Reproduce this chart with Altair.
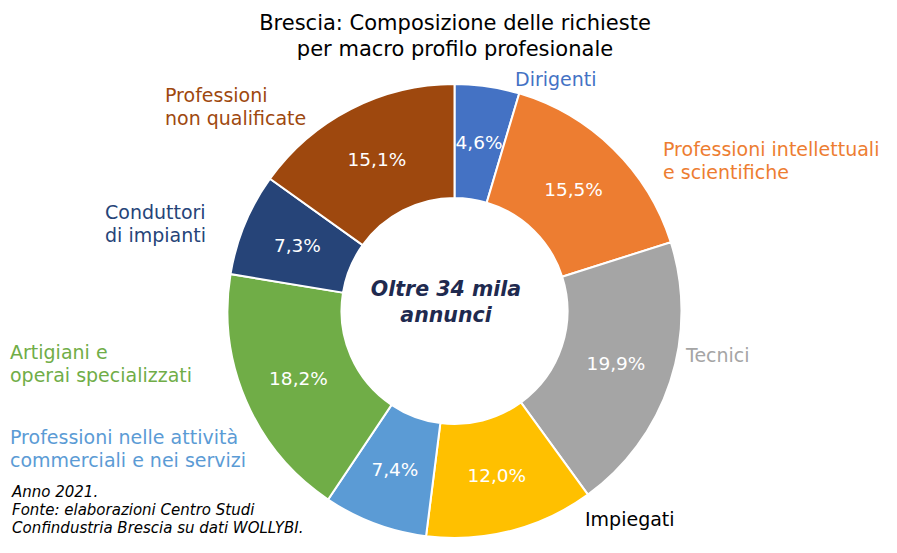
import altair as alt
import pandas as pd

# ---- data ----
categories = ["Dirigenti", "Professioni intellettuali e scientifiche", "Tecnici", "Impiegati",
              "Professioni nelle attività commerciali e nei servizi", "Artigiani e operai specializzati",
              "Conduttori di impianti", "Professioni non qualificate"]
shares = [4.6, 15.5, 19.9, 12.0, 7.4, 18.2, 7.3, 15.1]
colors = ["#4472C4", "#ED7D31", "#A5A5A5", "#FFC000", "#5B9BD5", "#70AD47", "#264478", "#9E480E"]
label_colors = ["#4472C4", "#ED7D31", "#A5A5A5", "#000000", "#5B9BD5", "#70AD47", "#264478", "#9E480E"]
label_lines = [["Dirigenti"], ["Professioni intellettuali", "e scientifiche"], ["Tecnici"], ["Impiegati"],
               ["Professioni nelle attività", "commerciali e nei servizi"], ["Artigiani e", "operai specializzati"],
               ["Conduttori", "di impianti"], ["Professioni", "non qualificate"]]
title_lines = ["Brescia: Composizione delle richieste", "per macro profilo profesionale"]
center_lines = ["Oltre 34 mila", "annunci"]
note_lines = ["Anno 2021.", "Fonte: elaborazioni Centro Studi", "Confindustria Brescia su dati WOLLYBI."]

# ---- layout (page coords minus 8px margin) ----
OFF = 8
CX, CY = 454.5 - OFF, 311 - OFF
R_OUT, R_IN, R_LAB = 227, 113, 170
label_pos = [(515, 80), (663, 150), (686, 356), (585, 520),
             (10, 438), (10, 353), (105, 213), (165, 96)]
LINE_H = 23
FONT = "DejaVu Sans"

df = pd.DataFrame({
    "cat": categories,
    "value": shares,
    "ord": list(range(len(categories))),
    "lab": [f"{v:.1f}".replace(".", ",") + "%" for v in shares],
})

color_scale = alt.Scale(domain=categories, range=colors)

base = alt.Chart(df).encode(
    theta=alt.Theta("value:Q", stack=True),
    order=alt.Order("ord:Q"),
    x=alt.value(CX), y=alt.value(CY),
)
arcs = base.mark_arc(outerRadius=R_OUT, innerRadius=R_IN, stroke="white", strokeWidth=2).encode(
    color=alt.Color("cat:N", scale=color_scale, legend=None)
)
pct = base.mark_text(font=FONT, fontSize=18.5, color="white").encode(
    text="lab:N", radius=alt.value(R_LAB)
)

rows = []
for i, lines in enumerate(label_lines):
    x, y = label_pos[i]
    for j, t in enumerate(lines):
        rows.append({"t": t, "x": x - OFF, "y": y - OFF + j * LINE_H, "c": label_colors[i]})
lab_df = pd.DataFrame(rows)
labels = alt.Chart(lab_df).mark_text(font=FONT, fontSize=19, align="left", baseline="middle").encode(
    x=alt.X("x:Q", scale=None), y=alt.Y("y:Q", scale=None), text="t:N",
    color=alt.Color("c:N", scale=None)
)

title_df = pd.DataFrame({"t": title_lines, "x": [455 - OFF] * 2, "y": [24 - OFF, 50 - OFF]})
title = alt.Chart(title_df).mark_text(font=FONT, fontSize=21, color="black", baseline="middle").encode(
    x=alt.X("x:Q", scale=None), y=alt.Y("y:Q", scale=None), text="t:N"
)

center_df = pd.DataFrame({"t": center_lines, "x": [446 - OFF] * 2, "y": [290 - OFF, 316 - OFF]})
center = alt.Chart(center_df).mark_text(font=FONT, fontSize=20.5, fontWeight="bold", fontStyle="italic",
                                        color="#1F2A4F", baseline="middle").encode(
    x=alt.X("x:Q", scale=None), y=alt.Y("y:Q", scale=None), text="t:N"
)

note_df = pd.DataFrame({"t": note_lines, "x": [12 - OFF] * 3, "y": [492 - OFF, 510 - OFF, 528 - OFF]})
note = alt.Chart(note_df).mark_text(font=FONT, fontSize=15, fontStyle="italic", color="black",
                                    align="left", baseline="middle").encode(
    x=alt.X("x:Q", scale=None), y=alt.Y("y:Q", scale=None), text="t:N"
)

chart = alt.layer(arcs, pct, labels, title, center, note).properties(
    width=881, height=537, autosize=alt.AutoSizeParams(type="none"), padding=0
).configure_view(stroke=None)

chart.save("out.html", embed_options={"renderer": "svg", "actions": False})
